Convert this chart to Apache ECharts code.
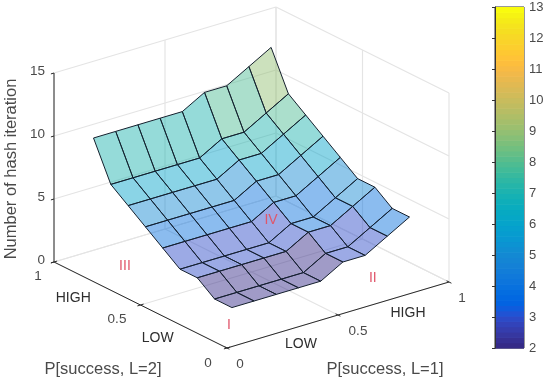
<!DOCTYPE html>
<html>
<head>
<meta charset="utf-8">
<style>html,body{margin:0;padding:0;background:#fff}#chart{width:550px;height:382px}</style>
<script src="https://cdn.jsdelivr.net/npm/echarts@6/dist/echarts.min.js"></script>
</head>
<body>
<div id="chart"></div>
<script>
// ---- data ----
const pSuccessL1 = [0.1, 0.2, 0.3, 0.4, 0.5, 0.6, 0.7, 0.8, 0.9];
const pSuccessL2 = [0.1, 0.2, 0.3, 0.4, 0.5, 0.6, 0.7, 0.8, 0.9];
const rowL2_01 = [2, 2, 2, 2, 2, 3, 3, 4, 5];
const rowL2_02 = [2, 2, 2, 2, 2, 3, 3, 4, 5];
const rowL2_03 = [3, 3, 3, 3, 3, 4, 4, 5, 6];
const rowL2_04 = [3, 3, 3, 3, 3, 4, 4, 5, 6];
const rowL2_05 = [4, 4, 4, 4, 4, 5, 5, 6, 7];
const rowL2_06 = [5, 5, 5, 5, 5, 6, 6, 7, 8];
const rowL2_07 = [6, 6, 6, 6, 6, 7, 7, 8, 9];
const rowL2_08 = [7, 7, 7, 7, 7, 8, 8, 9, 10];
const rowL2_09 = [10, 10, 10, 10, 10, 11, 11, 12, 13];
const hashIterations = [rowL2_01, rowL2_02, rowL2_03, rowL2_04, rowL2_05, rowL2_06, rowL2_07, rowL2_08, rowL2_09];
const xTicks = [0, 0.5, 1];
const yTicks = [0, 0.5, 1];
const zTicks = [0, 5, 10, 15];
const colorTicksMin = 2, colorTicksMax = 13;
const parula = [[.2081,.1663,.5292],[.2116,.1898,.5777],[.2123,.2138,.6270],[.2081,.2386,.6771],[.1959,.2645,.7279],[.1707,.2919,.7792],[.1253,.3242,.8303],[.0591,.3598,.8683],[.0117,.3875,.8820],[.0060,.4086,.8828],[.0165,.4266,.8786],[.0329,.4430,.8720],[.0498,.4586,.8641],[.0629,.4737,.8554],[.0723,.4887,.8467],[.0779,.5040,.8384],[.0793,.5200,.8312],[.0749,.5375,.8263],[.0641,.5570,.8240],[.0488,.5772,.8228],[.0343,.5966,.8199],[.0265,.6137,.8135],[.0239,.6287,.8038],[.0231,.6418,.7913],[.0228,.6535,.7768],[.0267,.6642,.7607],[.0384,.6743,.7436],[.0590,.6838,.7254],[.0843,.6928,.7062],[.1133,.7015,.6859],[.1453,.7098,.6646],[.1801,.7177,.6424],[.2178,.7250,.6193],[.2586,.7317,.5954],[.3022,.7376,.5712],[.3482,.7424,.5473],[.3953,.7459,.5244],[.4420,.7481,.5033],[.4871,.7491,.4840],[.5300,.7491,.4661],[.5709,.7485,.4494],[.6099,.7473,.4337],[.6473,.7456,.4188],[.6834,.7435,.4044],[.7184,.7411,.3905],[.7525,.7384,.3768],[.7858,.7356,.3633],[.8185,.7327,.3498],[.8507,.7299,.3360],[.8824,.7274,.3217],[.9139,.7258,.3063],[.9450,.7261,.2886],[.9739,.7314,.2666],[.9938,.7455,.2403],[.9990,.7653,.2164],[.9955,.7861,.1967],[.9880,.8066,.1794],[.9789,.8271,.1633],[.9697,.8481,.1475],[.9626,.8705,.1309],[.9589,.8949,.1132],[.9598,.9218,.0948],[.9661,.9514,.0755],[.9763,.9831,.0538]];

// ---- view: orthographic projection of the 3-D box onto the page ----
const ORIGIN = [227, 348], EX = [222, -66], EY = [-173, -86], EZ = [0, -12.6];
const FACE_ALPHA = 0.47, ZMAX = 15;
function project(x, y, z) {
  return [ORIGIN[0] + EX[0] * x + EY[0] * y + EZ[0] * z,
          ORIGIN[1] + EX[1] * x + EY[1] * y + EZ[1] * z];
}
function colour(v, a) {
  const t = Math.min(1, Math.max(0, (v - colorTicksMin) / (colorTicksMax - colorTicksMin)));
  const c = parula[Math.min(parula.length - 1, Math.floor(t * parula.length))];
  const rgb = c.map(n => Math.round(n * 255)).join(',');
  return a === undefined ? 'rgb(' + rgb + ')' : 'rgba(' + rgb + ',' + a + ')';
}

// segments of the box
const gridSegs = [];
zTicks.forEach(z => { gridSegs.push([0,1,z,1,1,z]); gridSegs.push([1,0,z,1,1,z]); });
xTicks.forEach(x => { gridSegs.push([x,1,0,x,1,ZMAX]); gridSegs.push([x,0,0,x,1,0]); });
yTicks.forEach(y => { gridSegs.push([1,y,0,1,y,ZMAX]); gridSegs.push([0,y,0,1,y,0]); });

const TL = 0.014;
const axisSegs = [[0,0,0,1,0,0],[0,0,0,0,1,0],[0,1,0,0,1,ZMAX]];
xTicks.forEach(x => axisSegs.push([x,0,0,x,-TL,0], [x,0,0,x,TL,0]));
yTicks.forEach(y => axisSegs.push([0,y,0,-TL,y,0], [0,y,0,TL,y,0]));
zTicks.forEach(z => axisSegs.push([0,1,z,-TL,1,z]));

// surface cells, back to front
const cells = [];
for (let j = pSuccessL2.length - 2; j >= 0; j--)
  for (let i = pSuccessL1.length - 2; i >= 0; i--) cells.push([i, j]);

// text
const TICK = '#4a4a4a', DARK = '#2e2e2e', RED = '#e0566a';
const texts = [];
function addText(text, a, dx, dy, size, fill, extra) {
  texts.push(Object.assign({text, a, dx, dy, size, fill}, extra || {}));
}
zTicks.forEach(z => addText(String(z), [0,1,z], -9, -2, 13.5, TICK, {align:'right'}));
addText('1',   [0,1,0],    -16, 14, 13.5, TICK);
addText('0.5', [0,0.5,0],  -23.5, 14, 13.5, TICK);
addText('0',   [0,0,0],    -19, 15, 13.5, TICK);
addText('0',   [0,0,0],     13, 16, 13.5, TICK);
addText('0.5', [0.5,0,0],   20, 16, 13.5, TICK);
addText('1',   [1,0,0],     13, 16, 13.5, TICK);
addText('HIGH',[0,0.75,0], -24, 14.5, 14, DARK);
addText('LOW', [0,0.25,0], -26, 11.5, 14, DARK);
addText('LOW', [0.25,0,0],  18.5, 12.5, 14, DARK);
addText('HIGH',[0.75,0,0],  14.5, 14.5, 14, DARK);
addText('P[success, L=2]', [0,0.5,0], -37.5, 64, 16.5, TICK);
addText('P[success, L=1]', [0.5,0,0], 47, 54, 16.5, TICK);
addText('Number of hash iteration', [0,1,7.5], -43, 1.5, 16.5, TICK, {rotation: Math.PI / 2});
addText('I',   [0.136,0.163,0], 0, 0, 14, RED);
addText('II',  [0.808,0.194,0], 0, 0, 14, RED);
addText('III', [0.177,0.817,0], 0, 0, 14, RED);
addText('IV',  [0.44,0.31,5.7], 0, 0, 14, RED);

const FONT = '"Liberation Sans", Arial, sans-serif';

function segmentRender(stroke, width) {
  return function (params, api) {
    const a = api.coord(project(api.value(0), api.value(1), api.value(2)));
    const b = api.coord(project(api.value(3), api.value(4), api.value(5)));
    return {type:'line', shape:{x1:a[0], y1:a[1], x2:b[0], y2:b[1]},
            style:{stroke, lineWidth:width}};
  };
}

const option = {
  animation: false,
  backgroundColor: '#fff',
  grid: [
    {left:0, top:0, width:550, height:382, show:false},
    {left:495, top:7, width:29, height:341, show:true, borderColor:'#333', borderWidth:1, backgroundColor:'transparent'}
  ],
  xAxis: [
    {gridIndex:0, type:'value', min:0, max:550, show:false},
    {gridIndex:1, type:'value', min:0, max:1, show:false}
  ],
  yAxis: [
    {gridIndex:0, type:'value', min:0, max:382, inverse:true, show:false},
    {gridIndex:1, type:'value', position:'right', min:colorTicksMin, max:colorTicksMax, interval:1,
     axisLine:{show:true, lineStyle:{color:'#333'}},
     axisTick:{show:true, inside:true, length:3, lineStyle:{color:'#333'}},
     splitLine:{show:false},
     axisLabel:{color:TICK, fontSize:13, fontFamily:FONT, margin:5, padding:[3,0,0,0]}}
  ],
  series: [
    {type:'custom', name:'grid', xAxisIndex:0, yAxisIndex:0, silent:true, clip:false, data:gridSegs,
     renderItem: segmentRender('#e4e4e4', 1.2), z:1},
    {type:'custom', name:'axes', xAxisIndex:0, yAxisIndex:0, silent:true, clip:false, data:axisSegs,
     renderItem: segmentRender('#2a2a2a', 1), z:2},
    {type:'custom', name:'surface', xAxisIndex:0, yAxisIndex:0, silent:true, clip:false, data:cells, z:3,
     renderItem(params, api) {
       const i = api.value(0), j = api.value(1);
       const corners = [[i,j],[i+1,j],[i+1,j+1],[i,j+1]];
       const pts = corners.map(c =>
         api.coord(project(pSuccessL1[c[0]], pSuccessL2[c[1]], hashIterations[c[1]][c[0]])));
       return {type:'polygon', shape:{points:pts},
               style:{fill:colour(hashIterations[j][i], FACE_ALPHA), stroke:'#15202e', lineWidth:1, lineJoin:'round'}};
     }},
    {type:'custom', name:'labels', xAxisIndex:0, yAxisIndex:0, silent:true, clip:false, z:5,
     data: texts.map((t, k) => [k]),
     renderItem(params, api) {
       const t = texts[api.value(0)];
       const p = api.coord(project(t.a[0], t.a[1], t.a[2]));
       return {type:'text', x:p[0] + t.dx, y:p[1] + t.dy, rotation:t.rotation || 0,
               style:{text:t.text, fontSize:t.size, fontFamily:FONT, fill:t.fill,
                      align:t.align || 'center', verticalAlign:'middle'}};
     }},
    {type:'custom', name:'colorbar', xAxisIndex:1, yAxisIndex:1, silent:true, z:0,
     data: parula.map((c, k) => [k]),
     renderItem(params, api) {
       const k = api.value(0), span = colorTicksMax - colorTicksMin, n = parula.length;
       const lo = api.coord([0, colorTicksMin + span * k / n]);
       const hi = api.coord([1, colorTicksMin + span * (k + 1) / n]);
       return {type:'rect', shape:{x:lo[0], y:hi[1], width:hi[0]-lo[0], height:lo[1]-hi[1]+0.6},
               style:{fill:'rgb(' + parula[k].map(n => Math.round(n*255)).join(',') + ')'}};
     }}
  ]
};
const chart = echarts.init(document.getElementById('chart'), null, {renderer:'canvas'});
chart.setOption(option);
</script>
</body>
</html>
